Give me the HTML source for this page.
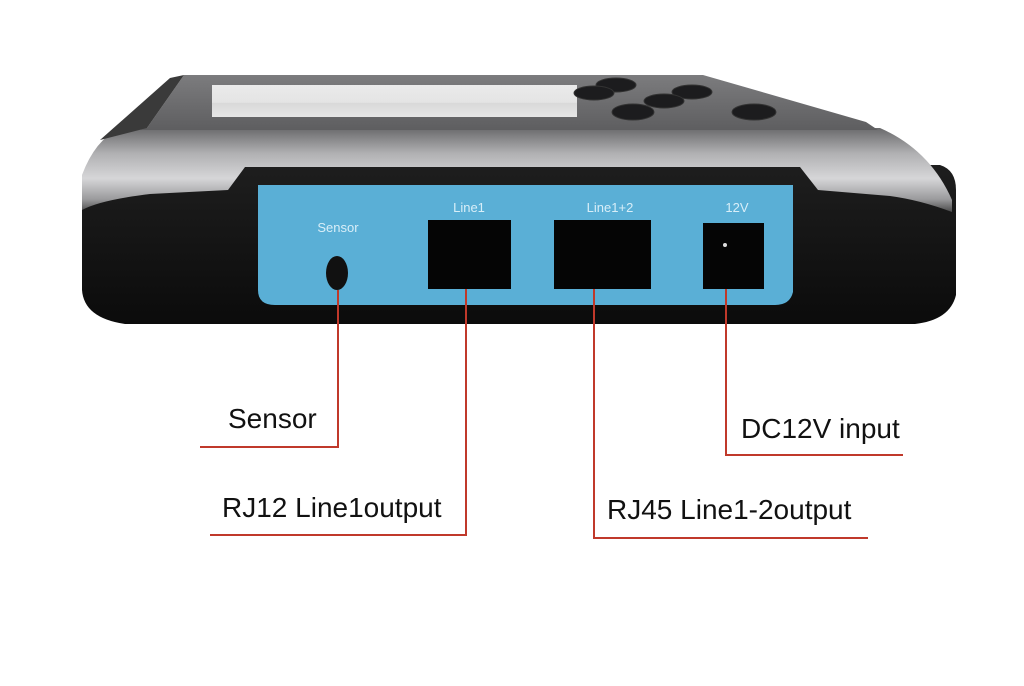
<!DOCTYPE html>
<html><head><style>
html,body{margin:0;padding:0;background:#fff;width:1024px;height:686px;overflow:hidden}
svg{display:block}
</style></head><body>
<svg width="1024" height="686" viewBox="0 0 1024 686" xmlns="http://www.w3.org/2000/svg">
<defs>
<linearGradient id="top" x1="0" y1="0" x2="0" y2="1">
<stop offset="0" stop-color="#7c7c7e"/><stop offset="1" stop-color="#5e5e60"/></linearGradient>
<linearGradient id="band" x1="0" y1="0" x2="0" y2="1">
<stop offset="0" stop-color="#6a6a6c"/><stop offset="0.3" stop-color="#b0b0b2"/><stop offset="0.6" stop-color="#d6d6d8"/><stop offset="0.85" stop-color="#9a9a9c"/><stop offset="1" stop-color="#4a4a4a"/></linearGradient>
<linearGradient id="blk" x1="0" y1="0" x2="0" y2="1">
<stop offset="0" stop-color="#1e1e1e"/><stop offset="1" stop-color="#0b0b0b"/></linearGradient>
<linearGradient id="scr" x1="0" y1="0" x2="0" y2="1">
<stop offset="0" stop-color="#eaeaea"/><stop offset="0.55" stop-color="#e4e4e4"/><stop offset="0.56" stop-color="#d8d8d8"/><stop offset="1" stop-color="#e6e6e6"/></linearGradient>
</defs>
<!-- black base -->
<path d="M92 165 L940 165 Q956 170 956 190 L956 295 Q950 320 915 324 L125 324 Q84 318 82 290 L82 190 Q84 168 92 165 Z" fill="url(#blk)"/>
<!-- silver band -->
<path d="M120 128 L880 128 Q930 150 952 200 L952 212 Q920 200 890 196 L818 190 L800 167 L245 167 L228 190 L150 194 Q100 200 82 210 L82 175 Q95 140 120 128 Z" fill="url(#band)"/>
<!-- top face -->
<path d="M184 75 L703 75 L866 122 L878 130 L140 130 L147 128 Z" fill="url(#top)"/>
<path d="M147 128 L184 75 L170 78 L100 140 Z" fill="#3a3a3a"/>
<!-- screen -->
<rect x="212" y="85" width="365" height="32" fill="url(#scr)"/>
<!-- buttons -->
<g fill="#1c1c1e" stroke="#333" stroke-width="1">
<ellipse cx="616" cy="85" rx="20" ry="7"/>
<ellipse cx="594" cy="93" rx="20" ry="7"/>
<ellipse cx="692" cy="92" rx="20" ry="7"/>
<ellipse cx="664" cy="101" rx="20" ry="7"/>
<ellipse cx="633" cy="112" rx="21" ry="8"/>
<ellipse cx="754" cy="112" rx="22" ry="8"/>
</g>
<!-- blue panel -->
<path d="M258 185 L793 185 L793 292 Q790 305 775 305 L275 305 Q258 305 258 290 Z" fill="#5aafd6"/>
<g font-family="Liberation Sans, sans-serif" font-size="13" fill="#d8eef8" text-anchor="middle">
<text x="338" y="232">Sensor</text>
<text x="469" y="212">Line1</text>
<text x="610" y="212">Line1+2</text>
<text x="737" y="212">12V</text>
</g>
<ellipse cx="337" cy="273" rx="11" ry="17" fill="#111"/>
<rect x="428" y="220" width="83" height="69" fill="#050505"/>
<rect x="554" y="220" width="97" height="69" fill="#050505"/>
<rect x="703" y="223" width="61" height="66" fill="#050505"/>
<circle cx="725" cy="245" r="2" fill="#ddd"/>
<!-- red leader lines -->
<g stroke="#c0392b" stroke-width="2" fill="none">
<polyline points="338,290 338,447 200,447"/>
<polyline points="466,289 466,535 210,535"/>
<polyline points="594,289 594,538 868,538"/>
<polyline points="726,289 726,455 903,455"/>
</g>
<g font-family="Liberation Sans, sans-serif" font-size="28" fill="#111">
<text x="228" y="428">Sensor</text>
<text x="222" y="517">RJ12 Line1output</text>
<text x="607" y="519">RJ45 Line1-2output</text>
<text x="741" y="438">DC12V input</text>
</g>
</svg>
</body></html>
